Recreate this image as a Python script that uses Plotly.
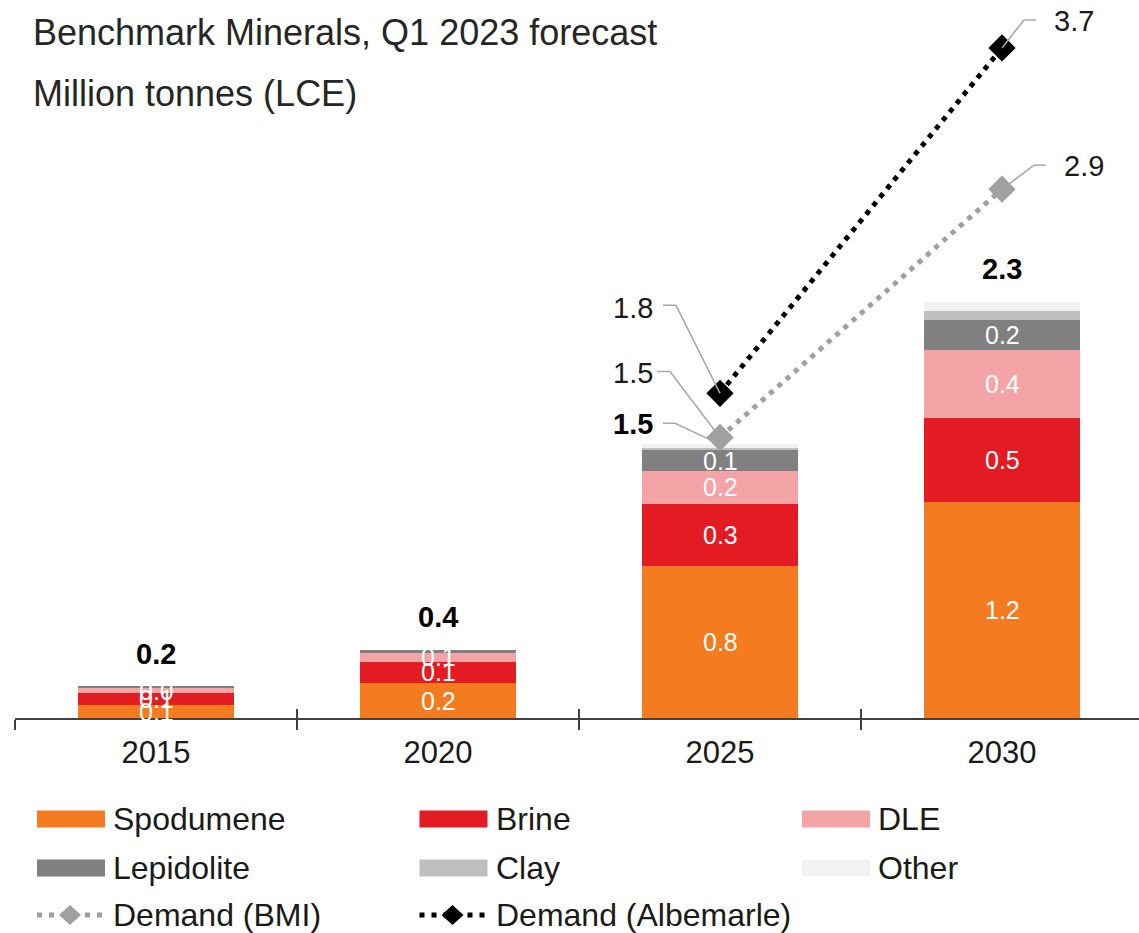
import plotly.graph_objects as go

# ---------------- data ----------------
years = ["2015", "2020", "2025", "2030"]
series_names = ["Spodumene", "Brine", "DLE", "Lepidolite", "Clay", "Other"]
spodumene = [0.070, 0.193, 0.841, 1.190]
brine = [0.066, 0.118, 0.342, 0.464]
dle = [0.031, 0.051, 0.180, 0.379]
lepidolite = [0.005, 0.011, 0.116, 0.167]
clay = [0.0, 0.0, 0.013, 0.048]
other = [0.0, 0.0, 0.019, 0.050]
demand_names = ["Demand (BMI)", "Demand (Albemarle)"]
demand_bmi = [None, None, 1.549, 2.92]
demand_albemarle = [None, None, 1.793, 3.70]
title_lines = ["Benchmark Minerals, Q1 2023 forecast", "Million tonnes (LCE)"]

series_values = [spodumene, brine, dle, lepidolite, clay, other]
demand_values = [demand_bmi, demand_albemarle]

# ---------------- style ----------------
W, H = 1139, 933
FONT = "Liberation Sans, Arial, Helvetica, sans-serif"
TXT = "#1a1a1a"
series_colors = ["#F47B20", "#E31B23", "#F4A3A6", "#808080", "#BFBFBF", "#F2F2F2"]
labelled_series = [True, True, True, True, False, False]
demand_colors = ["#A0A0A0", "#000000"]
LEADER = "#A6A6A6"
AXIS = "#404040"
base_px = 718          # pixel row of the x axis
px_per_unit = 181.1    # vertical scale
left_px = 15
cat_px = 282

def px(x):
    return x / W

def py(y):
    return 1 - y / H

fig = go.Figure()

# stacked bars
for name, vals, col in zip(series_names, series_values, series_colors):
    fig.add_trace(go.Bar(
        x=years, y=vals, name=name, marker=dict(color=col, line=dict(width=0)),
        width=0.555, hoverinfo="x+y+name", showlegend=False))

# helper trace for the overlay tick axis
fig.add_trace(go.Scatter(x=years, y=[None] * len(years), xaxis="x2", yaxis="y",
                         mode="markers", showlegend=False, hoverinfo="skip"))

# demand lines
for name, vals, col in zip(demand_names, demand_values, demand_colors):
    fig.add_trace(go.Scatter(
        x=years, y=vals, name=name, mode="lines+markers",
        line=dict(color=col, width=5, dash="5px,6px"),
        marker=dict(symbol="diamond", size=21, color=col, line=dict(width=0)),
        showlegend=False))

annotations = []
shapes = []

# titles
for i, t in enumerate(title_lines):
    annotations.append(dict(x=px(31), y=py([32, 93][i]), xref="paper", yref="paper",
                            xanchor="left", yanchor="middle", text=t, showarrow=False,
                            font=dict(size=36, color="#262626", family=FONT)))

# segment labels (x given as category index)
for si, (vals, lab) in enumerate(zip(series_values, labelled_series)):
    if not lab:
        continue
    for i, v in enumerate(vals):
        if v < 0.02:
            continue
        base = sum(series_values[k][i] for k in range(si))
        annotations.append(dict(x=i, y=base + v / 2, xref="x", yref="y",
                                text=f"{v:.1f}", showarrow=False, yanchor="middle",
                                font=dict(size=25, color="white", family=FONT)))

# totals
totals = [sum(s[i] for s in series_values) for i in range(len(years))]
total_leader = {2: dict(text=(-65, 20), path="M0,0 L-45,21 L-57,21")}
for i, t in enumerate(totals):
    txt = f"<b>{t:.1f}</b>"
    if i in total_leader:
        lo = total_leader[i]
        annotations.append(dict(x=i, y=t, xref="x", yref="y", text=txt,
                                showarrow=False, xanchor="right", yanchor="middle",
                                xshift=lo["text"][0], yshift=lo["text"][1],
                                font=dict(size=29, color="#000", family=FONT)))
        shapes.append(dict(type="path", xref="x", yref="y", xsizemode="pixel",
                           ysizemode="pixel", xanchor=i, yanchor=t, path=lo["path"],
                           line=dict(color=LEADER, width=1.5)))
    else:
        annotations.append(dict(x=i, y=t, xref="x", yref="y", text=txt,
                                showarrow=False, yanchor="middle", yshift=33,
                                font=dict(size=29, color="#000", family=FONT)))

# demand value labels with leader lines
demand_label_style = {
    (0, 2): dict(anchor="right", text=(-65, 64), path="M0,0 L-50,66 L-63,66"),
    (1, 2): dict(anchor="right", text=(-65, 85), path="M0,0 L-44,88 L-57,88"),
    (0, 3): dict(anchor="left", text=(60, 23), path="M0,0 L32,24 L44,24"),
    (1, 3): dict(anchor="left", text=(50, 27), path="M0,0 L22,28 L34,28"),
}
for di, vals in enumerate(demand_values):
    for i, v in enumerate(vals):
        if v is None:
            continue
        st = demand_label_style[(di, i)]
        annotations.append(dict(x=i, y=v, xref="x", yref="y", text=f"{v:.1f}",
                                showarrow=False, xanchor=st["anchor"], yanchor="middle",
                                xshift=st["text"][0], yshift=st["text"][1],
                                font=dict(size=29, color=TXT, family=FONT)))
        shapes.append(dict(type="path", xref="x", yref="y", xsizemode="pixel",
                           ysizemode="pixel", xanchor=i, yanchor=v, path=st["path"],
                           line=dict(color=LEADER, width=1.5)))

# custom legend
legend_items = [(n, "bar", c) for n, c in zip(series_names, series_colors)] + \
               [(n, "line", c) for n, c in zip(demand_names, demand_colors)]
row_y = [819, 868, 915]
col_x = [37, 419.5, 802]
sw_w, sw_h = 68, 17
for k, (name, kind, col) in enumerate(legend_items):
    r, c = divmod(k, 3)
    x0, yc = col_x[c], row_y[r]
    if kind == "bar":
        shapes.append(dict(type="rect", xref="paper", yref="paper",
                           x0=px(x0), x1=px(x0 + sw_w), y0=py(yc - sw_h / 2), y1=py(yc + sw_h / 2),
                           fillcolor=col, line=dict(width=0)))
    else:
        shapes.append(dict(type="line", xref="paper", yref="paper",
                           x0=px(x0), x1=px(x0 + 66), y0=py(yc), y1=py(yc),
                           line=dict(color=col, width=5, dash="5px,7px")))
        shapes.append(dict(type="path", xref="paper", yref="paper", xsizemode="pixel",
                           ysizemode="pixel", xanchor=px(x0 + 33), yanchor=py(yc),
                           path="M-11,0 L0,10 L11,0 L0,-10 Z", fillcolor=col,
                           line=dict(width=0)))
    annotations.append(dict(x=px(x0 + 74), y=py(yc), xref="paper", yref="paper",
                            xanchor="left", yanchor="middle", text=name, showarrow=False,
                            font=dict(size=32, color=TXT, family=FONT)))

x_range = [-0.5, -0.5 + (W - left_px) / cat_px]
x_domain = [left_px / W, 1]
fig.update_layout(
    width=W, height=H, autosize=False,
    margin=dict(l=0, r=0, t=0, b=0),
    paper_bgcolor="white", plot_bgcolor="white",
    barmode="stack", showlegend=False,
    font=dict(family=FONT, color=TXT),
    xaxis=dict(type="category", categoryorder="array", categoryarray=years,
               domain=x_domain, range=x_range, showline=True, linecolor=AXIS,
               linewidth=2, ticks="outside", ticklen=10, tickwidth=2, tickcolor=AXIS,
               tickson="boundaries", ticklabelstandoff=6,
               tickfont=dict(size=31, color=TXT, family=FONT),
               showgrid=False, zeroline=False, fixedrange=True),
    xaxis2=dict(type="category", categoryorder="array", categoryarray=years,
                domain=x_domain, range=x_range, overlaying="x", anchor="y",
                side="bottom", ticks="inside", ticklen=9, tickwidth=2, tickcolor=AXIS,
                tickson="boundaries", showticklabels=False, showline=False,
                showgrid=False, zeroline=False, fixedrange=True),
    yaxis=dict(domain=[1 - base_px / H, 1], range=[0, base_px / px_per_unit],
               visible=False, fixedrange=True),
    annotations=annotations,
    shapes=shapes,
)

fig.write_html("out.html", config={"displayModeBar": False},
               post_script="document.body.style.margin='0px';document.body.style.overflow='hidden';")
